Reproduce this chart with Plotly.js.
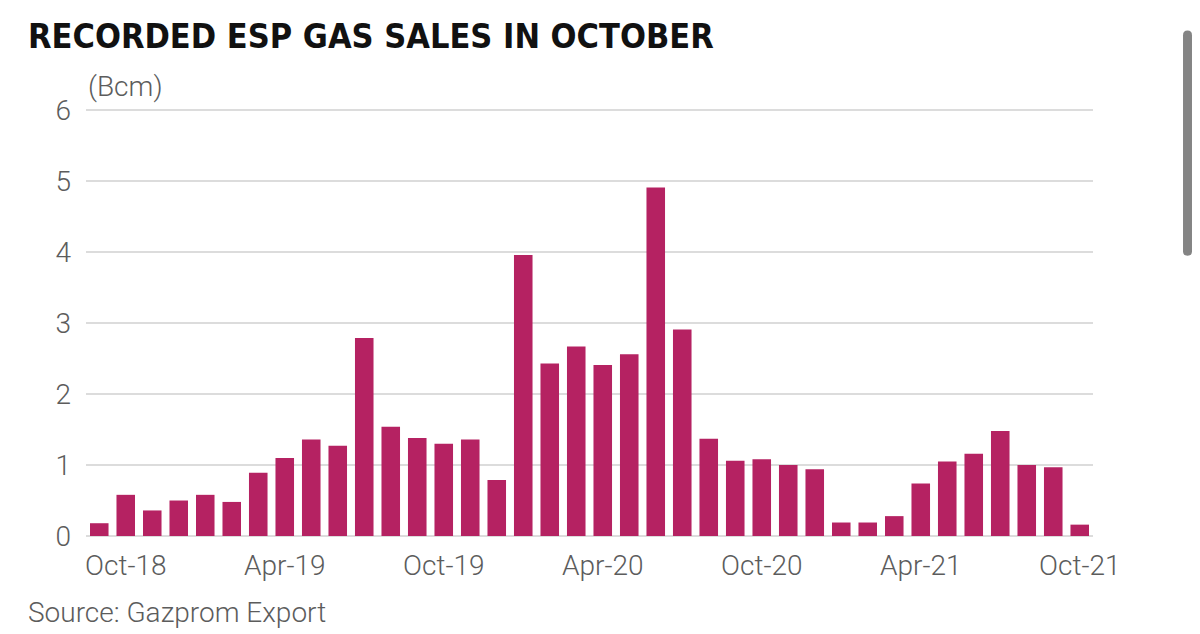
<!DOCTYPE html>
<html>
<head>
<meta charset="utf-8">
<script src="https://cdn.plot.ly/plotly-3.0.1.min.js"></script>
<style>
  html, body { margin: 0; padding: 0; background: #ffffff; }
  #chart { width: 1200px; height: 634px; }
</style>
</head>
<body>
<div id="chart"></div>
<script>
const months = [
  "Sep-18", "Oct-18", "Nov-18", "Dec-18",
  "Jan-19", "Feb-19", "Mar-19", "Apr-19", "May-19", "Jun-19",
  "Jul-19", "Aug-19", "Sep-19", "Oct-19", "Nov-19", "Dec-19",
  "Jan-20", "Feb-20", "Mar-20", "Apr-20", "May-20", "Jun-20",
  "Jul-20", "Aug-20", "Sep-20", "Oct-20", "Nov-20", "Dec-20",
  "Jan-21", "Feb-21", "Mar-21", "Apr-21", "May-21", "Jun-21",
  "Jul-21", "Aug-21", "Sep-21", "Oct-21"
];
const salesBcm = [
  0.18, 0.58, 0.36, 0.50,
  0.58, 0.48, 0.89, 1.10, 1.36, 1.27,
  2.79, 1.54, 1.38, 1.30, 1.36, 0.79,
  3.96, 2.43, 2.67, 2.41, 2.56, 4.91,
  2.91, 1.37, 1.06, 1.08, 1.00, 0.94,
  0.19, 0.19, 0.28, 0.74, 1.05, 1.16,
  1.48, 1.00, 0.97, 0.16
];
const xTickLabels = ["Oct-18", "Apr-19", "Oct-19", "Apr-20", "Oct-20", "Apr-21", "Oct-21"];
const yTicks = [0, 1, 2, 3, 4, 5, 6];

const textFont = { family: "Roboto, 'Open Sans', sans-serif", size: 28, color: "#5c5c5c", weight: 300 };

const trace = {
  type: "bar",
  x: months,
  y: salesBcm,
  marker: { color: "#b52262", line: { width: 0 } },
  hoverinfo: "x+y"
};

const layout = {
  width: 1200,
  height: 634,
  paper_bgcolor: "#ffffff",
  plot_bgcolor: "#ffffff",
  margin: { l: 86, r: 107, t: 108, b: 98, pad: 0 },
  bargap: 0.3,
  showlegend: false,
  title: {
    text: "RECORDED ESP GAS SALES IN OCTOBER",
    font: { family: "'Liberation Sans Narrow', 'DejaVu Sans Condensed', sans-serif", size: 34, color: "#111111", weight: "bold", stretch: "condensed" },
    x: 28 / 1200,
    xanchor: "left",
    xref: "container",
    y: 1 - 36 / 634,
    yanchor: "middle",
    yref: "container"
  },
  xaxis: {
    type: "category",
    categoryorder: "array",
    categoryarray: months,
    tickmode: "array",
    tickvals: xTickLabels,
    ticktext: xTickLabels,
    tickfont: textFont,
    ticks: "",
    ticklabelstandoff: 10,
    showgrid: false,
    showline: false,
    zeroline: false,
    fixedrange: true
  },
  yaxis: {
    range: [0, 6.03],
    tickmode: "array",
    tickvals: yTicks,
    ticktext: yTicks.map(String),
    tickfont: textFont,
    ticks: "",
    ticklabelstandoff: 14,
    showgrid: true,
    gridcolor: "#dcdcdc",
    gridwidth: 2,
    zeroline: true,
    zerolinecolor: "#dcdcdc",
    zerolinewidth: 2,
    showline: false,
    fixedrange: true
  },
  annotations: [
    {
      text: "(Bcm)",
      xref: "paper", yref: "paper",
      x: 0, y: 1,
      xshift: 0, yshift: 22,
      xanchor: "left", yanchor: "middle",
      showarrow: false,
      font: textFont
    },
    {
      text: "Source: Gazprom Export",
      xref: "paper", yref: "paper",
      x: (26 - 86) / 1007, y: (536 - 612) / 428,
      xanchor: "left", yanchor: "middle",
      showarrow: false,
      font: textFont
    }
  ],
  shapes: [
    {
      type: "path",
      xref: "paper", yref: "paper",
      path: "M 1.0894,1.1702 Q 1.0894,1.1808 1.0939,1.1808 Q 1.0983,1.1808 1.0983,1.1702 L 1.0983,0.6655 Q 1.0983,0.6549 1.0939,0.6549 Q 1.0894,0.6549 1.0894,0.6655 Z",
      fillcolor: "#848484",
      line: { width: 0 }
    }
  ]
};

Plotly.newPlot("chart", [trace], layout, { displayModeBar: false, staticPlot: true });
</script>
</body>
</html>
